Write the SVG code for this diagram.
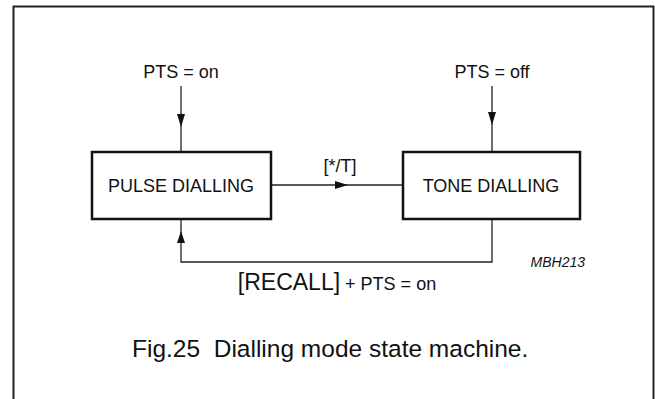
<svg xmlns="http://www.w3.org/2000/svg" width="655" height="399" viewBox="0 0 655 399">
<style>
.frame{fill:none;stroke:#222;stroke-width:2}
.box{fill:#fff;stroke:#111;stroke-width:2.5}
.wire{fill:none;stroke:#222;stroke-width:1.3}
.head{fill:#111}
text{font-family:"Liberation Sans",Arial,sans-serif;fill:#111}
.lbl{font-size:18px;text-anchor:middle}
.cap{font-size:24.5px}
.code{font-size:14px;font-style:italic}
</style>
<rect width="655" height="399" fill="#fff"/>
<path class="frame" d="M13.5,399 V6.5 H653.5 V399"/>
<g id="connectors">
  <line class="wire" x1="181" y1="86" x2="181" y2="152"/>
  <polygon class="head" points="177,114 185,114 181,127"/>
  <line class="wire" x1="492" y1="86" x2="492" y2="152"/>
  <polygon class="head" points="488,112 496,112 492,125"/>
  <line class="wire" x1="271" y1="185" x2="403" y2="185"/>
  <polygon class="head" points="335,181 335,189 348,185"/>
  <path class="wire" d="M492,219 V262 H181 V219"/>
  <polygon class="head" points="177,243 185,243 181,231"/>
</g>
<g id="pulse">
  <rect class="box" x="92" y="152" width="179" height="67"/>
  <text class="lbl" x="181" y="192">PULSE DIALLING</text>
</g>
<g id="tone">
  <rect class="box" x="403" y="152" width="177" height="67"/>
  <text class="lbl" x="491" y="192">TONE DIALLING</text>
</g>
<g id="labels">
  <text class="lbl" x="181" y="78">PTS = on</text>
  <text class="lbl" x="492" y="78">PTS = off</text>
  <text class="lbl" x="340" y="172">[*/T]</text>
  <text x="337" y="290" text-anchor="middle"><tspan font-size="23">[RECALL]</tspan><tspan font-size="18"> + PTS = on</tspan></text>
  <text class="code" x="585" y="267" text-anchor="end">MBH213</text>
  <text class="cap" x="132" y="357" xml:space="preserve">Fig.25  Dialling mode state machine.</text>
</g>
</svg>
